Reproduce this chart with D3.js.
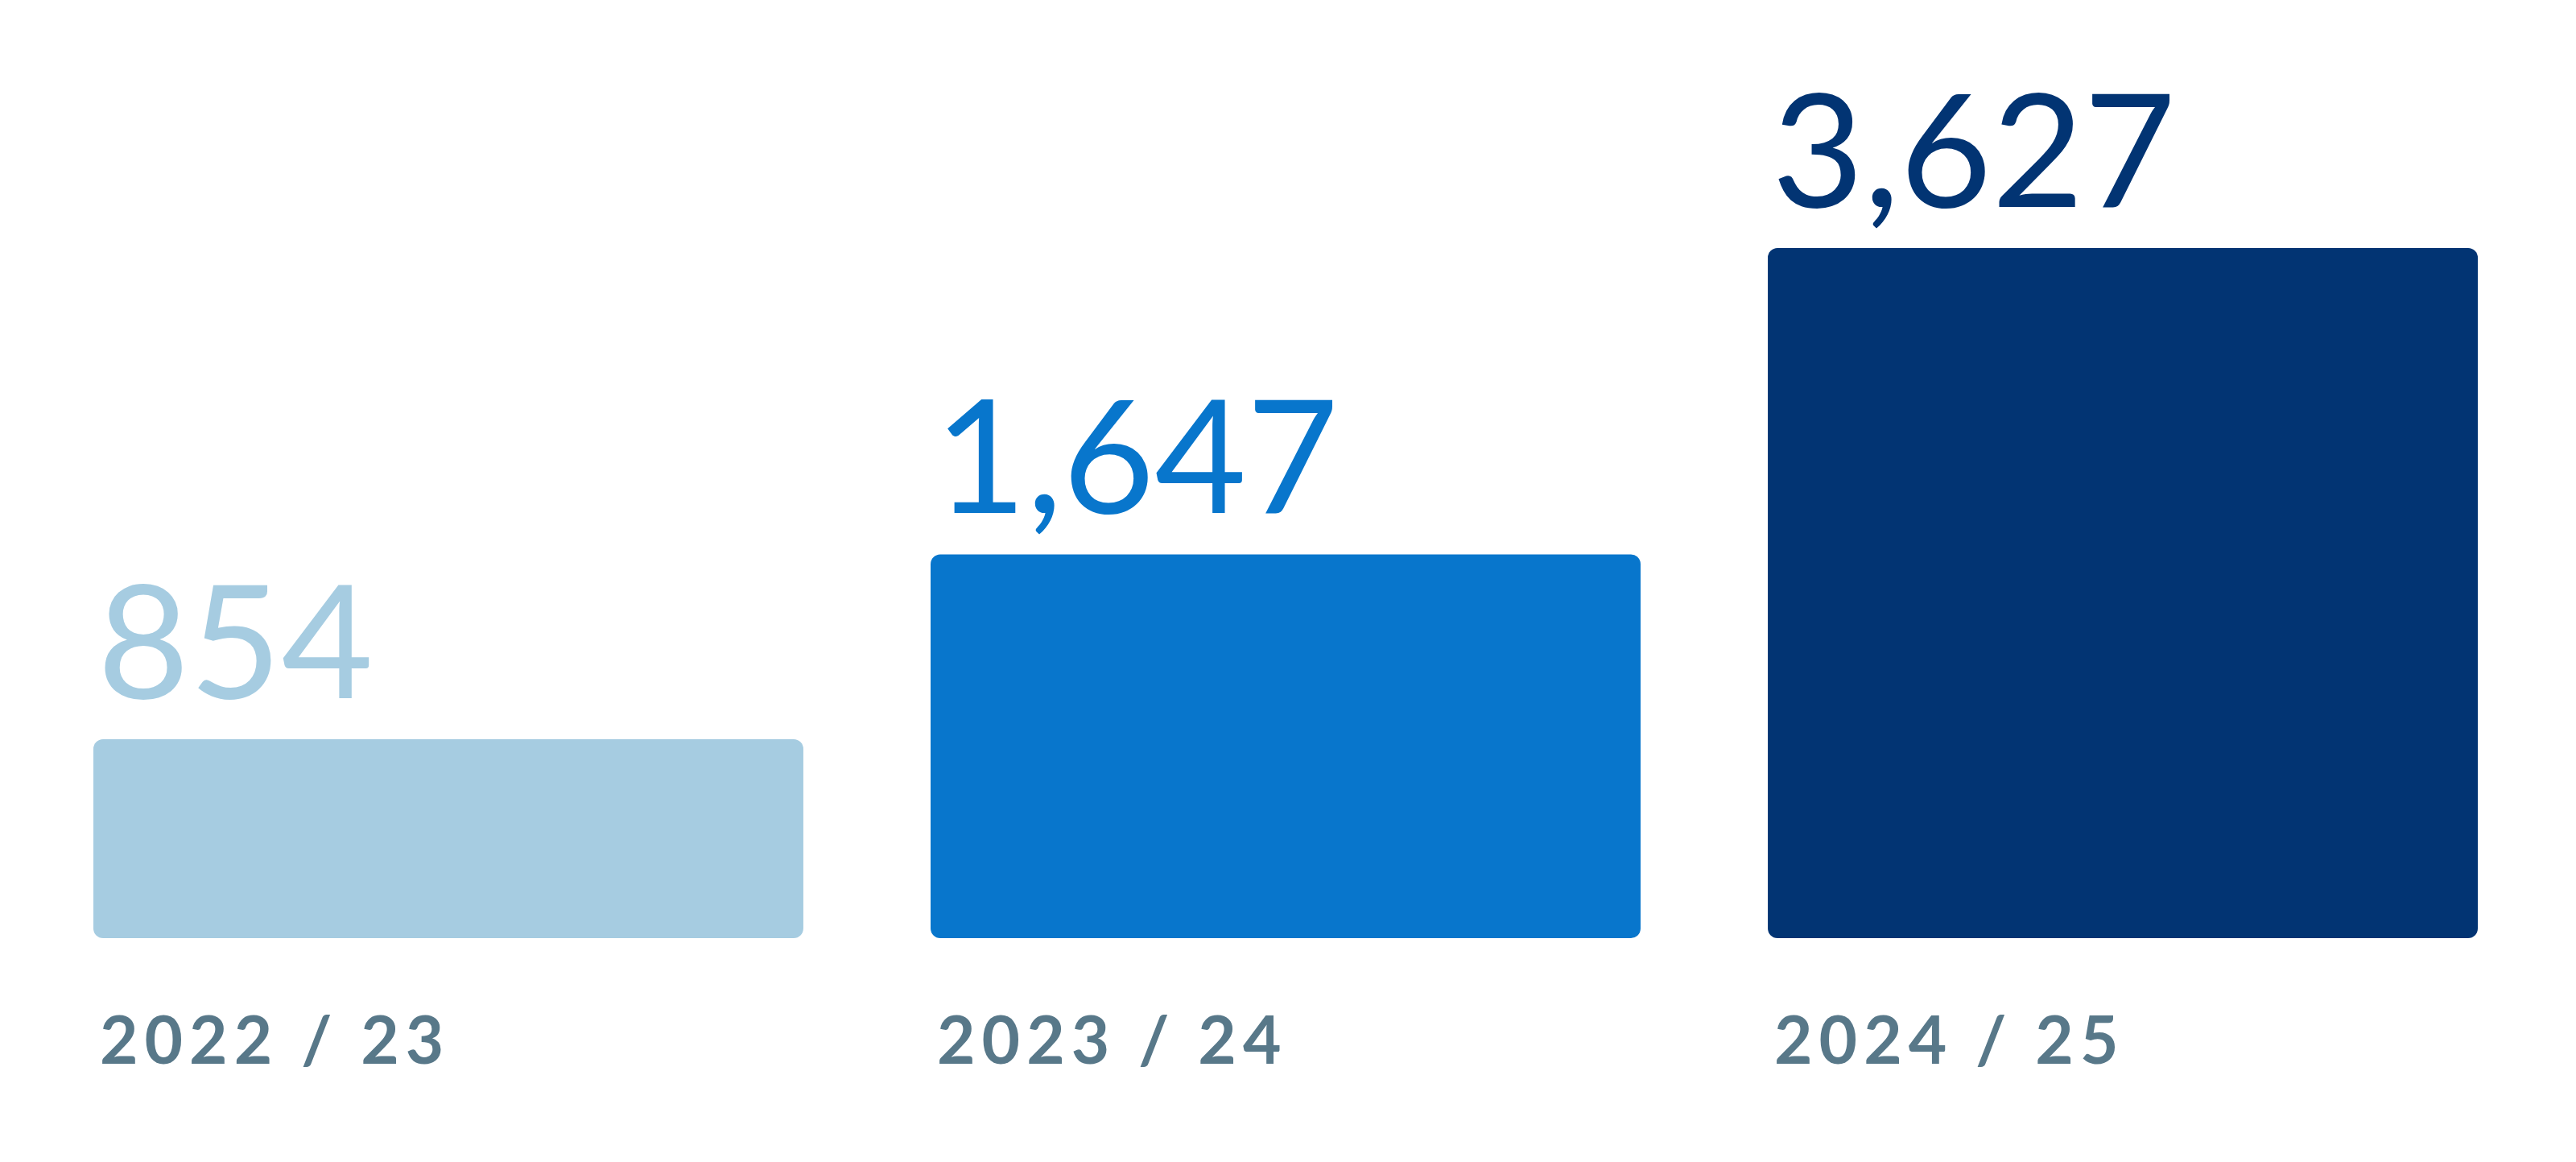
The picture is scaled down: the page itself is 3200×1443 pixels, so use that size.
<!DOCTYPE html>
<html>
<head>
<meta charset="utf-8">
<script src="https://cdn.jsdelivr.net/npm/d3@7"></script>
<style>
  html, body { margin: 0; padding: 0; background: #ffffff; }
  svg { display: block; }
</style>
</head>
<body>
<svg id="chart" width="3200" height="1443"></svg>
<script>
// ---- data ----
const categories = ["2022 / 23", "2023 / 24", "2024 / 25"];
const values = [854, 1647, 3627];
const colors = ["#a6cce1", "#0876cc", "#023473"];
const labelColor = "#587889";

// ---- layout ----
const W = 3200, H = 1443;
const baseY = 1165;
const topY = 308;
const svg = d3.select("#chart");
svg.append("rect").attr("width", W).attr("height", H).attr("fill", "#ffffff");

const x = d3.scaleBand()
  .domain(categories)
  .range([116, 3078])
  .paddingInner(0.152)
  .paddingOuter(0);

// bars are capped at the top of the plot area
const y = d3.scaleLinear()
  .domain([0, 2962])
  .range([baseY, topY])
  .clamp(true);

const fmt = d3.format(",");

const g = svg.append("g");

g.selectAll("rect.bar")
  .data(values)
  .join("rect")
  .attr("class", "bar")
  .attr("x", (d, i) => x(categories[i]))
  .attr("y", d => y(d))
  .attr("width", x.bandwidth())
  .attr("height", d => baseY - y(d))
  .attr("rx", 12)
  .attr("ry", 12)
  .attr("fill", (d, i) => colors[i]);

g.selectAll("text.value")
  .data(values)
  .join("text")
  .attr("class", "value")
  .attr("x", (d, i) => x(categories[i]) + 5)
  .attr("y", d => y(d) - 51)
  .attr("fill", (d, i) => colors[i])
  .style("font-family", "Lato, 'Open Sans', sans-serif")
  .style("font-weight", 400)
  .style("font-size", "197px")
  .text(d => fmt(d));

g.selectAll("text.cat")
  .data(categories)
  .join("text")
  .attr("class", "cat")
  .attr("x", d => x(d) + 8)
  .attr("y", 1320.5)
  .attr("fill", labelColor)
  .style("font-family", "Lato, 'Open Sans', sans-serif")
  .style("font-weight", 700)
  .style("font-size", "82px")
  .style("letter-spacing", "8px")
  .style("white-space", "pre")
  .text(d => d);
</script>
</body>
</html>
